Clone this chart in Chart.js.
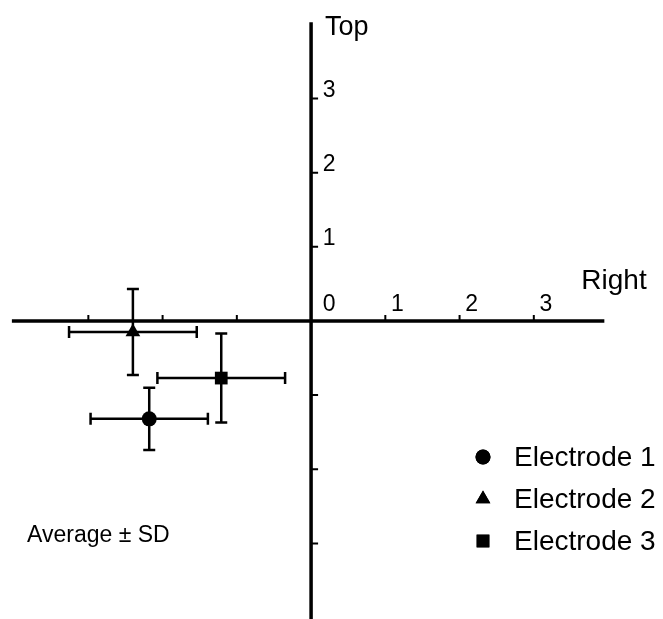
<!DOCTYPE html>
<html>
<head>
<meta charset="utf-8">
<script src="https://cdn.jsdelivr.net/npm/chart.js@4"></script>
<style>
  body { margin: 0; background: #fff; }
  canvas { display: block; }
</style>
</head>
<body>
<canvas id="posChart" width="663" height="619"></canvas>
<script>
// mean position and SD per electrode
const names = ["Electrode 1", "Electrode 2", "Electrode 3"];
const meanX = [-2.18, -2.40, -1.21];
const meanY = [-1.32, -0.15, -0.77];
const sdX = [0.79, 0.86, 0.86];
const sdY = [0.42, 0.58, 0.60];
const markers = ["circle", "triangle", "rect"];
const markerSize = [7.5, 8.5, 9];

const xTicks = [-3, -2, -1, 1, 2, 3];
const yTicks = [-3, -2, -1, 1, 2, 3];
const xLabels = ["0", "1", "2", "3"];
const yLabels = ["1", "2", "3"];

const FONT = '"Liberation Sans", Arial, sans-serif';

const axesPlugin = {
    id: "crossAxes",
    beforeDatasetsDraw(chart) {
        const ctx = chart.ctx;
        const xs = chart.scales.x, ys = chart.scales.y;
        const x0 = xs.getPixelForValue(0), y0 = ys.getPixelForValue(0);
        ctx.save();
        ctx.strokeStyle = "#000";
        ctx.fillStyle = "#000";
        // axis lines
        ctx.lineWidth = 3.5;
        ctx.beginPath();
        ctx.moveTo(xs.getPixelForValue(-4.03), y0);
        ctx.lineTo(xs.getPixelForValue(3.95), y0);
        ctx.moveTo(x0, ys.getPixelForValue(4.03));
        ctx.lineTo(x0, ys.getPixelForValue(-4.1));
        ctx.stroke();
        // tick marks
        ctx.lineWidth = 2;
        ctx.beginPath();
        xTicks.forEach(v => {
            const px = xs.getPixelForValue(v);
            ctx.moveTo(px, y0);
            ctx.lineTo(px, y0 - 6);
        });
        yTicks.forEach(v => {
            const py = ys.getPixelForValue(v);
            ctx.moveTo(x0, py);
            ctx.lineTo(x0 + 7, py);
        });
        ctx.stroke();
        // tick labels
        ctx.font = "23px " + FONT;
        ctx.textAlign = "center";
        ctx.textBaseline = "middle";
        xLabels.forEach(t => {
            const dx = t === "0" ? 18 : 12;
            ctx.fillText(t, xs.getPixelForValue(Number(t)) + dx, y0 - 16);
        });
        yLabels.forEach(t => {
            ctx.fillText(t, x0 + 18, ys.getPixelForValue(Number(t)) - 8);
        });
        // axis titles
        ctx.textAlign = "left";
        ctx.font = "27px " + FONT;
        ctx.fillText("Top", x0 + 14, ys.getPixelForValue(3.96));
        ctx.font = "28px " + FONT;
        ctx.fillText("Right", xs.getPixelForValue(3.64), y0 - 40);
        ctx.font = "23px " + FONT;
        ctx.fillText("Average \u00b1 SD", 27, 536);

        // error bars
        ctx.lineWidth = 2.5;
        ctx.beginPath();
        names.forEach((n, i) => {
            const cx = xs.getPixelForValue(meanX[i]);
            const cy = ys.getPixelForValue(meanY[i]);
            const l = xs.getPixelForValue(meanX[i] - sdX[i]);
            const r = xs.getPixelForValue(meanX[i] + sdX[i]);
            const t = ys.getPixelForValue(meanY[i] + sdY[i]);
            const b = ys.getPixelForValue(meanY[i] - sdY[i]);
            ctx.moveTo(l, cy); ctx.lineTo(r, cy);
            ctx.moveTo(l, cy - 6); ctx.lineTo(l, cy + 6);
            ctx.moveTo(r, cy - 6); ctx.lineTo(r, cy + 6);
            ctx.moveTo(cx, t); ctx.lineTo(cx, b);
            ctx.moveTo(cx - 6, t); ctx.lineTo(cx + 6, t);
            ctx.moveTo(cx - 6, b); ctx.lineTo(cx + 6, b);
        });
        ctx.stroke();

        // legend
        ctx.font = "28px " + FONT;
        ctx.textBaseline = "middle";
        names.forEach((n, i) => {
            const ly = 457 + i * 42;
            Chart.helpers.drawPoint(ctx, {
                pointStyle: markers[i], radius: markerSize[i], rotation: 0, borderWidth: 0
            }, 483, ly);
            ctx.fill();
            ctx.fillText(n, 514, ly + 1);
        });
        ctx.restore();
    }
};

new Chart(document.getElementById("posChart"), {
    type: "scatter",
    data: {
        datasets: names.map((n, i) => ({
            label: n,
            data: [{ x: meanX[i], y: meanY[i] }],
            pointStyle: markers[i],
            pointRadius: markerSize[i],
            pointHoverRadius: markerSize[i],
            backgroundColor: "#000",
            borderColor: "#000",
            borderWidth: 0
        }))
    },
    options: {
        responsive: false,
        animation: false,
        layout: { padding: 0, autoPadding: false },
        plugins: { legend: { display: false }, tooltip: { enabled: false } },
        scales: {
            x: { type: "linear", display: false, min: -4.19, max: 4.74 },
            y: { type: "linear", display: false, min: -4.02, max: 4.33 }
        }
    },
    plugins: [axesPlugin]
});
</script>
</body>
</html>
